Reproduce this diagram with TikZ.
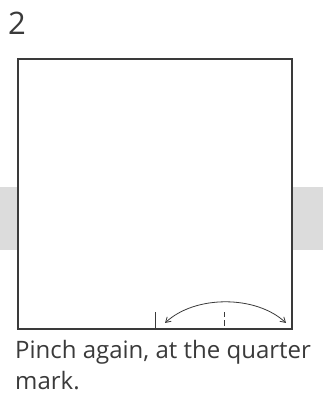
\documentclass[tikz,border=0pt]{standalone}
\usepackage{fontspec}
\setmainfont{Open Sans}
\usepackage{xcolor}
\definecolor{inkgray}{HTML}{3A3A3A}
\definecolor{bandgray}{HTML}{DCDCDC}
\usepackage{tikz}
\usetikzlibrary{arrows.meta, positioning}

\begin{document}
\begin{tikzpicture}[x=1pt, y=1pt]
    \tikzstyle{paper}=[draw=inkgray, fill=white, line width=1.3pt, inner sep=0pt,
                       minimum width=274pt, minimum height=270pt]
    \tikzstyle{crease}=[draw=inkgray, line width=0.8pt]
    \tikzstyle{arr}=[{Straight Barb[length=5pt,width=6pt]}-{Straight Barb[length=5pt,width=6pt]}, line width=0.8pt, color=inkgray]
    \tikzstyle{caption}=[font=\fontsize{24}{30}\selectfont, text=inkgray, inner sep=0pt, align=left]

    \useasboundingbox (0,0) rectangle (323,398);
    \fill[bandgray] (0,148) rectangle (323,211);

    \node[caption, anchor=base west, font=\fontsize{31}{31}\selectfont] (step) at (8,363) {2};
    \node[paper] (sheet) at (155,204) {};

    \coordinate (half) at (155,69);
    \coordinate (halftop) at (155,86);
    \coordinate (quarter) at (224,72);
    \coordinate (quartertop) at (224,86);
    \coordinate (from) at (165,75);
    \coordinate (to) at (286,75);

    \draw[crease] (half) -- (halftop);
    \draw[crease, dash pattern=on 6pt off 3pt] (quarter) -- (quartertop);
    \draw[arr] (from) .. controls (195,103) and (256,103) .. (to);

    \node[caption, anchor=base west] (text) at (15,9) {Pinch again, at the quarter\\mark.};
\end{tikzpicture}
\end{document}
